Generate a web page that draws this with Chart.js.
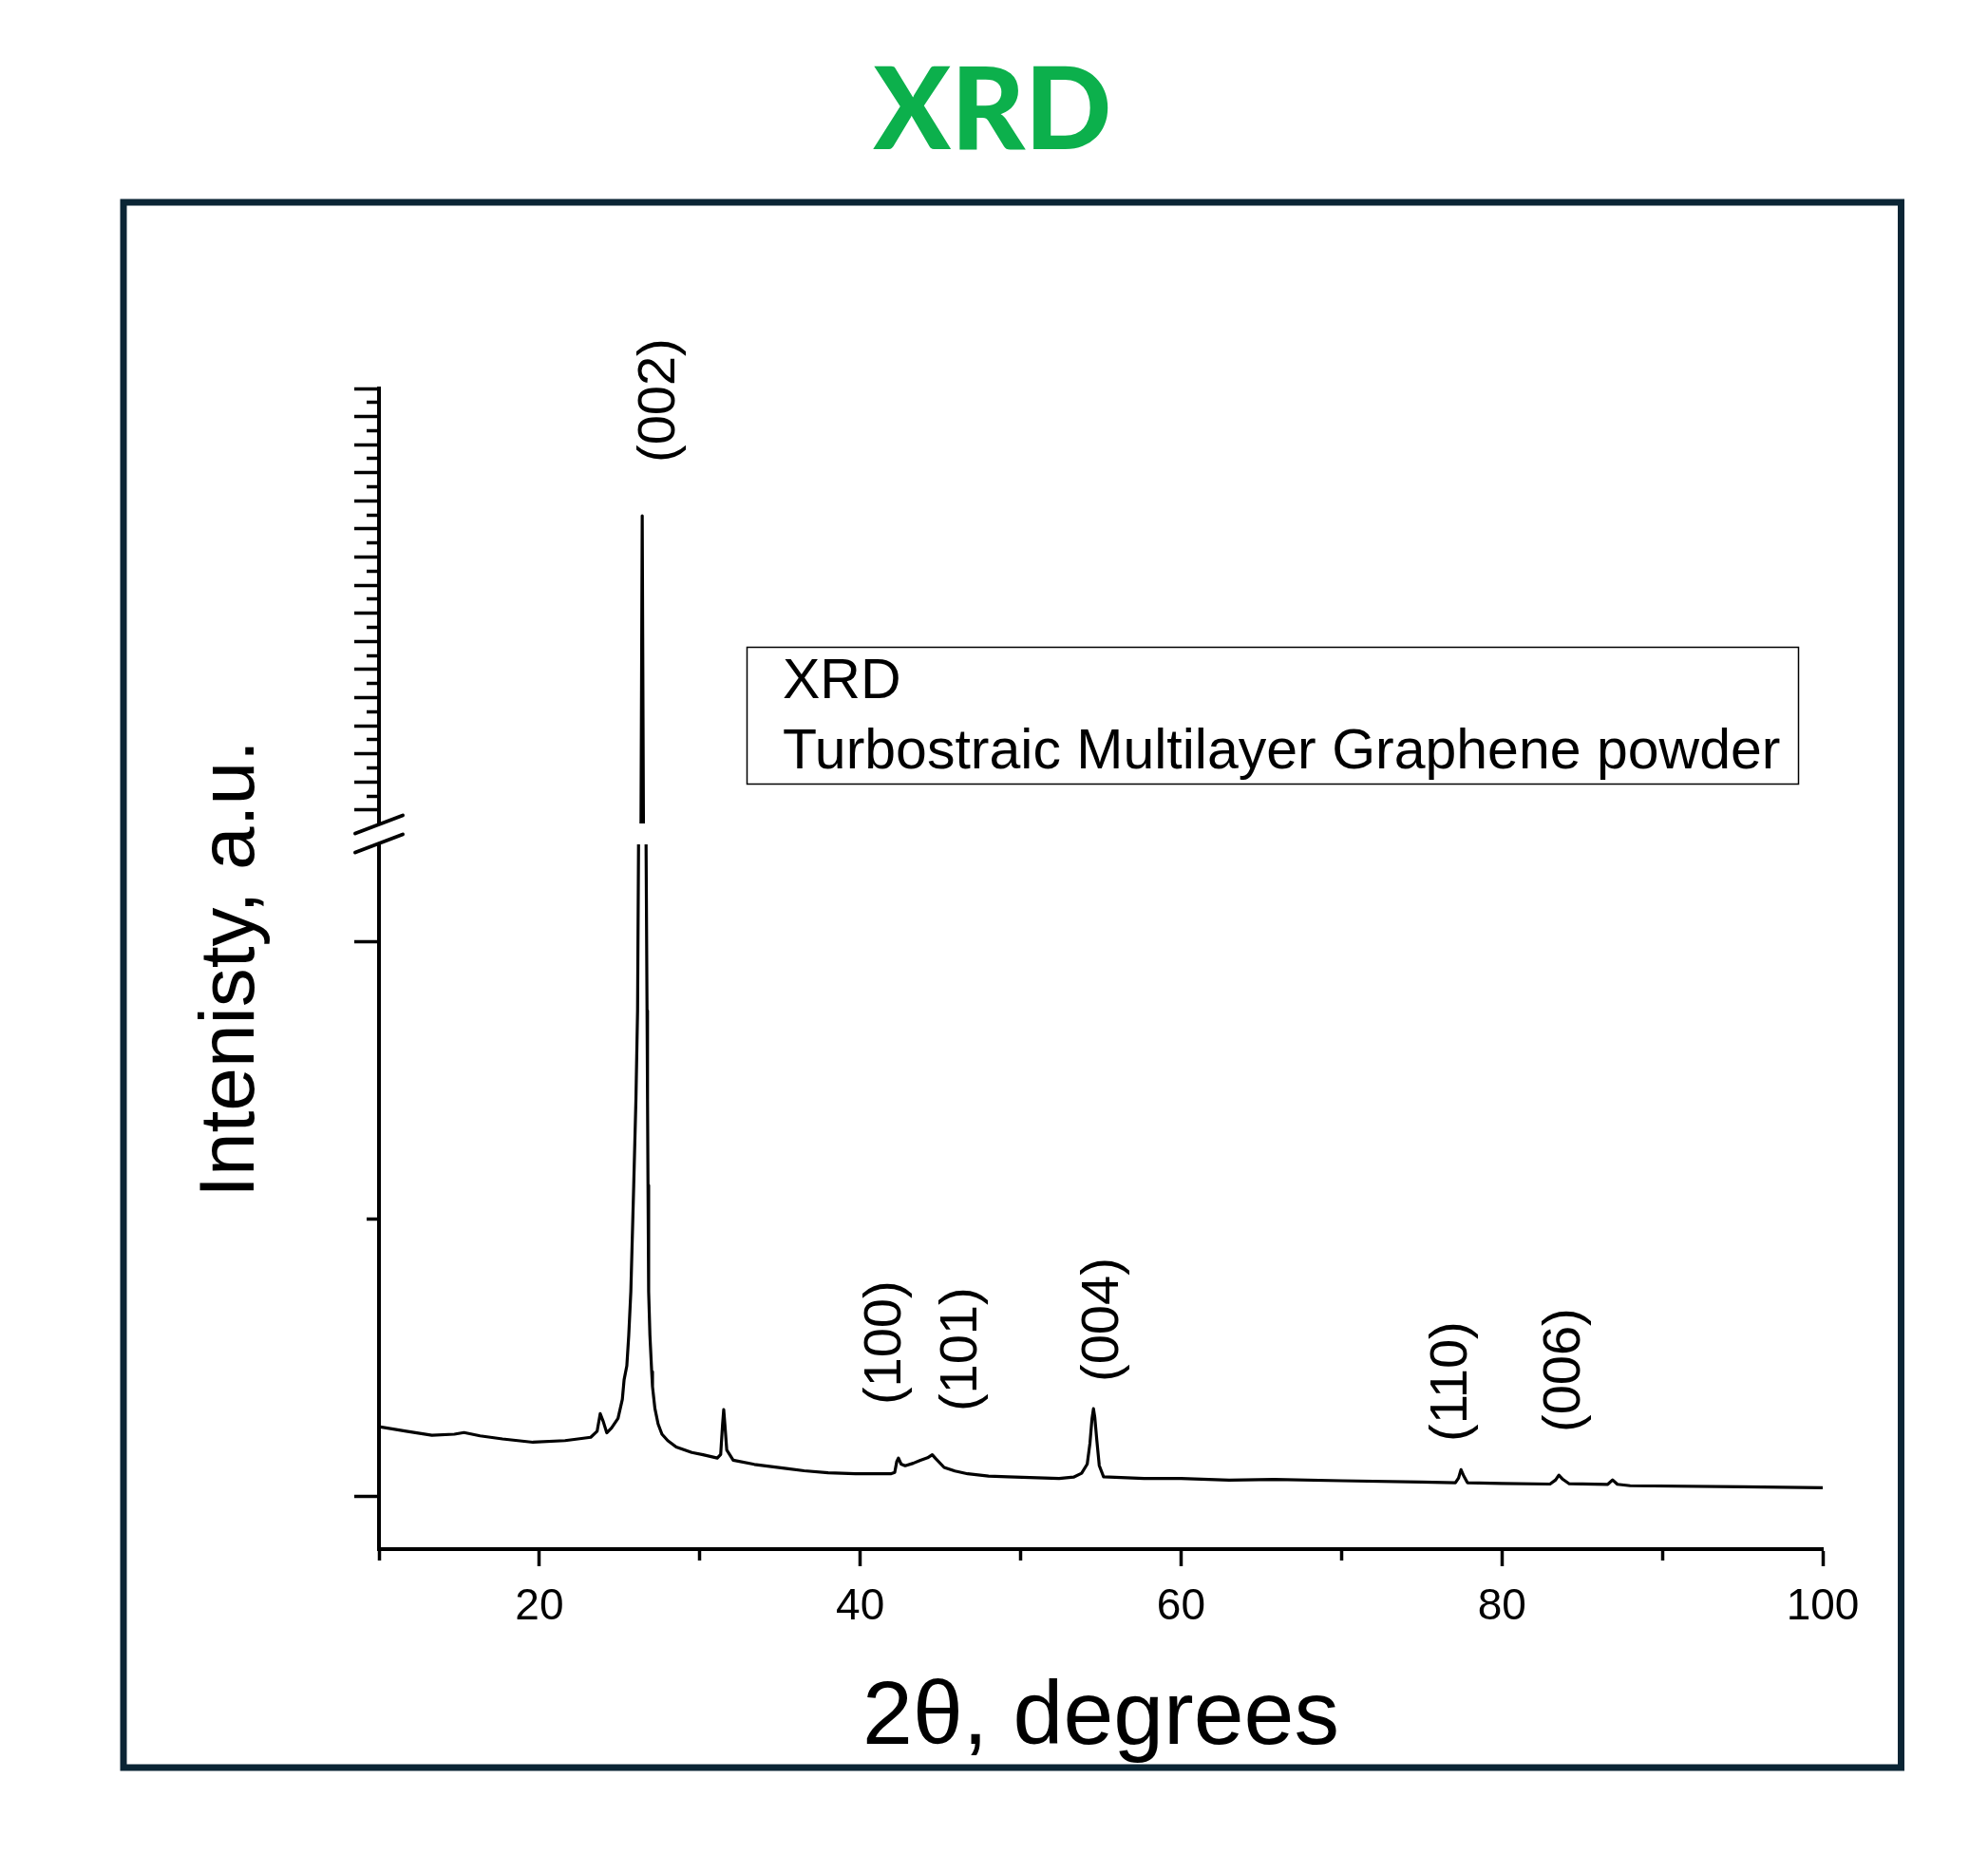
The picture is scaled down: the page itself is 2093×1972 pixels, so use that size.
<!DOCTYPE html>
<html>
<head>
<meta charset="utf-8">
<script src="https://cdn.jsdelivr.net/npm/chart.js@4.4.1/dist/chart.umd.min.js"></script>
<style>
  html, body { margin: 0; padding: 0; background: #fff; }
  canvas { display: block; }
</style>
</head>
<body>
<canvas id="xrd" width="2093" height="1972"></canvas>
<script>
// XRD pattern (2theta in degrees, intensity in counts)
const twoTheta = [10.0, 11.7, 13.3, 14.7, 15.3, 16.3, 17.7, 19.6, 21.6, 23.2,
  23.6, 23.79, 23.98, 24.2, 24.5, 24.9, 25.17, 25.28, 25.45, 25.57,
  25.7, 25.88, 26.02, 26.12, 26.18, 26.25, 26.33, 26.41, 26.49, 26.57,
  26.65, 26.71, 26.74, 26.77, 26.81, 26.89, 27.0, 27.05, 27.2, 27.4,
  27.64, 28.0, 28.53, 29.5, 30.2, 31.09, 31.3, 31.42, 31.49, 31.56,
  31.68, 32.08, 33.4, 35.4, 36.5, 38.0, 39.7, 41.9, 42.15, 42.28,
  42.38, 42.55, 42.8, 43.3, 43.75, 44.2, 44.49, 44.7, 45.23, 45.9,
  46.7, 48.0, 49.2, 52.4, 53.3, 53.8, 54.15, 54.32, 54.45, 54.54,
  54.62, 54.75, 54.9, 55.17, 57.7, 60.0, 63.0, 65.8, 70.0, 75.0,
  77.1, 77.3, 77.45, 77.6, 77.85, 80.0, 83.0, 83.35, 83.55, 83.8,
  84.2, 86.6, 86.9, 87.2, 88.0, 95.0, 100.0];
const intensity = [2250, 2234, 2219, 2223, 2229, 2217, 2206, 2194, 2200, 2212,
  2234, 2297, 2269, 2228, 2246, 2280, 2349, 2420, 2470, 2580,
  2738, 3122, 3437, 3753, 4346, 8000, 40000, 154700, 40000, 8000,
  4346, 3753, 3437, 3122, 2738, 2580, 2449, 2395, 2316, 2260,
  2223, 2200, 2177, 2157, 2149, 2137, 2150, 2260, 2312, 2260,
  2166, 2129, 2114, 2099, 2091, 2084, 2080, 2080, 2085, 2125,
  2137, 2115, 2109, 2118, 2129, 2138, 2149, 2135, 2103, 2090,
  2080, 2072, 2069, 2063, 2068, 2082, 2115, 2190, 2280, 2315,
  2285, 2200, 2110, 2069, 2063, 2063, 2057, 2060, 2055, 2050,
  2048, 2065, 2095, 2075, 2048, 2045, 2043, 2058, 2075, 2060,
  2044, 2042, 2058, 2042, 2037, 2033, 2030];

// broken y axis: lower and upper ranges and their tick marks
const lowRange = [1808, 4391];
const lowTicks = [2000, 3000, 4000];
const topRange = [41554, 200000];
const topTickStart = 50000, topTickStep = 5000;

// peak annotations (hkl), their 2theta and where the text starts
const peakNames = ['(002)', '(100)', '(101)', '(004)', '(110)', '(006)'];
const peakAt = [27.48, 41.6, 46.3, 55.15, 76.9, 83.95];
const peakTextFrom = [173649, 2329, 2305, 2412, 2196, 2230];
const peakAxis = ['yTop', 'yLow', 'yLow', 'yLow', 'yLow', 'yLow'];

const legendLines = ['XRD', 'Turbostraic Multilayer Graphene powder'];

const FONT = 'Liberation Sans';
Chart.defaults.font.family = FONT;
Chart.defaults.color = '#000';

const points = () => twoTheta.map((t, i) => ({ x: t, y: intensity[i] }));

// each copy of the curve only shows inside its own piece of the y axis
const clipToAxis = {
  id: 'clipToAxis',
  beforeDatasetDraw(chart, args) {
    const ys = args.meta.yScale, a = chart.chartArea, ctx = chart.ctx;
    ctx.save();
    ctx.beginPath();
    ctx.rect(a.left, ys.top, a.right - a.left, ys.bottom - ys.top);
    ctx.clip();
  },
  afterDatasetDraw(chart) { chart.ctx.restore(); }
};

const axisBreak = {
  id: 'axisBreak',
  afterDatasetsDraw(chart) {
    const ctx = chart.ctx, a = chart.chartArea;
    const b = chart.scales.yTop.bottom;
    const ax = a.left;
    ctx.save();
    ctx.fillStyle = '#fff';
    ctx.fillRect(ax + 3, b - 11, a.right - ax, 22);
    ctx.beginPath();
    ctx.moveTo(ax - 25, b - 0.5);
    ctx.lineTo(ax + 25, b - 19.5);
    ctx.lineTo(ax + 25, b + 0.5);
    ctx.lineTo(ax - 25, b + 19.5);
    ctx.closePath();
    ctx.fill();
    ctx.strokeStyle = '#000';
    ctx.lineWidth = 4;
    ctx.lineCap = 'round';
    [-10, 10].forEach(d => {
      ctx.beginPath();
      ctx.moveTo(ax - 25, b + d + 9.5);
      ctx.lineTo(ax + 25, b + d - 9.5);
      ctx.stroke();
    });
    ctx.restore();
  }
};

const decorations = {
  id: 'decorations',
  afterDraw(chart) {
    const ctx = chart.ctx, xs = chart.scales.x;
    ctx.save();
    // peak labels, rotated
    ctx.fillStyle = '#000';
    ctx.font = '56px "' + FONT + '"';
    ctx.textAlign = 'left';
    ctx.textBaseline = 'middle';
    peakNames.forEach((name, i) => {
      const x = xs.getPixelForValue(peakAt[i]);
      const y = chart.scales[peakAxis[i]].getPixelForValue(peakTextFrom[i]);
      ctx.save();
      ctx.translate(x, y);
      ctx.rotate(-Math.PI / 2);
      ctx.fillText(name, 0, 0);
      ctx.restore();
    });
    // legend box
    ctx.strokeStyle = '#000';
    ctx.lineWidth = 1.5;
    ctx.strokeRect(786.5, 681.5, 1107, 144);
    ctx.font = '59px "' + FONT + '"';
    ctx.fillText(legendLines[0], 824, 719);
    ctx.fillText(legendLines[1], 824, 793);
    // outer frame
    ctx.strokeStyle = '#0b2535';
    ctx.lineWidth = 7;
    ctx.strokeRect(130, 213, 1871.5, 1648);
    ctx.restore();
  }
};

const curve = {
  borderColor: '#000',
  borderWidth: 3.2,
  borderJoinStyle: 'round',
  pointRadius: 0,
  tension: 0,
  fill: false
};

new Chart(document.getElementById('xrd'), {
  type: 'line',
  data: {
    datasets: [
      Object.assign({ data: points(), yAxisID: 'yLow' }, curve),
      Object.assign({ data: points(), yAxisID: 'yTop' }, curve)
    ]
  },
  plugins: [clipToAxis, axisBreak, decorations],
  options: {
    responsive: false,
    animation: false,
    devicePixelRatio: 1,
    layout: { padding: { left: 171, right: 174, top: 0, bottom: 0 } },
    plugins: {
      legend: { display: false },
      tooltip: { enabled: false },
      title: {
        display: true,
        text: 'XRD',
        color: '#0cb04c',
        font: { family: 'Lato', size: 120, weight: '900', lineHeight: 1 },
        padding: { top: 58, bottom: 231 }
      }
    },
    scales: {
      x: {
        type: 'linear',
        min: 10,
        max: 100,
        border: { color: '#000', width: 4 },
        grid: {
          drawOnChartArea: false,
          tickLength: 18,
          tickWidth: 3.5,
          tickColor: '#000',
          tickBorderDash: c => (c.tick && c.tick.value % 20 === 0) ? [] : [10, 100]
        },
        ticks: {
          stepSize: 10,
          autoSkip: false,
          maxRotation: 0,
          padding: 16,
          color: '#000',
          font: { size: 46 },
          callback: v => v % 20 === 0 ? v : ''
        },
        title: {
          display: true,
          text: '2θ, degrees',
          color: '#000',
          font: { size: 95, lineHeight: 1 },
          padding: { top: 0, bottom: 115 }
        },
        afterFit: s => { s.height = 341; }
      },
      yTitle: {
        type: 'linear',
        position: 'left',
        weight: 10,
        ticks: { display: false },
        grid: { display: false },
        border: { display: false },
        title: {
          display: true,
          text: 'Intenisty, a.u.',
          color: '#000',
          font: { size: 82, lineHeight: 1 },
          padding: { top: 32, bottom: 0 }
        },
        afterFit: s => { s.width = 119; }
      },
      yTop: {
        type: 'linear',
        position: 'left',
        stack: 'y',
        stackWeight: 469,
        weight: 2,
        min: topRange[0],
        max: topRange[1],
        border: { color: '#000', width: 4 },
        grid: {
          drawOnChartArea: false,
          tickLength: 26,
          tickWidth: 3.5,
          tickColor: '#000',
          tickBorderDash: c => (c.tick && c.tick.value % 10000 === 0) ? [] : [13, 13],
          tickBorderDashOffset: c => (c.tick && c.tick.value % 10000 === 0) ? 0 : 13
        },
        ticks: { display: false },
        afterBuildTicks: s => {
          const t = [];
          for (let v = topTickStart; v <= topRange[1]; v += topTickStep) t.push({ value: v });
          s.ticks = t;
        },
        afterFit: s => { s.width = 109; }
      },
      yLow: {
        type: 'linear',
        position: 'left',
        stack: 'y',
        stackWeight: 753,
        weight: 1,
        min: lowRange[0],
        max: lowRange[1],
        border: { color: '#000', width: 4 },
        grid: {
          drawOnChartArea: false,
          tickLength: 26,
          tickWidth: 3.5,
          tickColor: '#000',
          tickBorderDash: c => (c.tick && c.tick.value % 2000 === 0) ? [] : [13, 13],
          tickBorderDashOffset: c => (c.tick && c.tick.value % 2000 === 0) ? 0 : 13
        },
        ticks: { display: false },
        afterBuildTicks: s => { s.ticks = lowTicks.map(v => ({ value: v })); },
        afterFit: s => { s.width = 109; }
      }
    }
  }
});
</script>
</body>
</html>
